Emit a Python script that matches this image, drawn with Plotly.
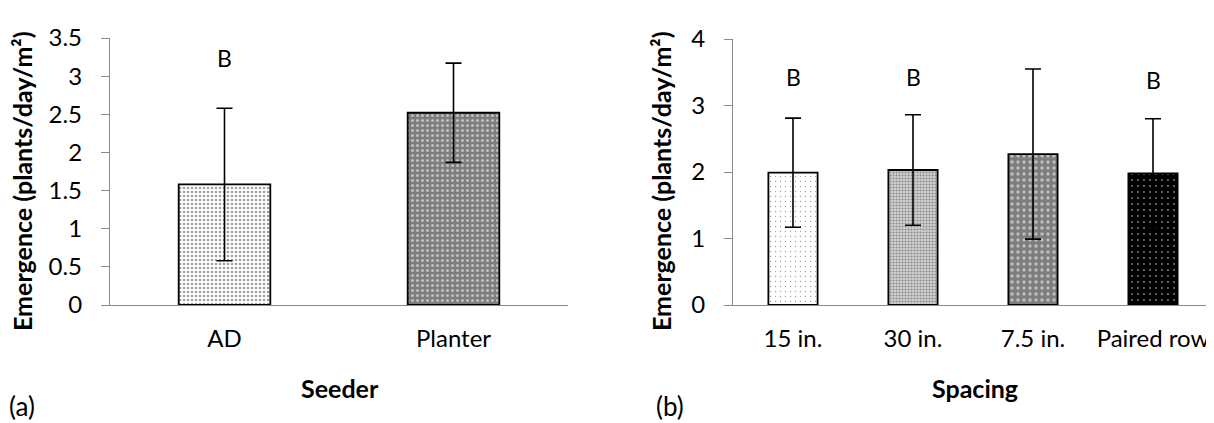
import plotly.graph_objects as go

# ---- data ----
seeder_cats = ["AD", "Planter"]
seeder_vals = [1.58, 2.52]
seeder_err = [1.0, 0.65]
seeder_letters = ["B", "A"]
seeder_letter_y = [3.24, 3.70]

spacing_cats = ["15 in.", "30 in.", "7.5 in.", "Paired row"]
spacing_vals = [1.99, 2.03, 2.27, 1.98]
spacing_err = [0.82, 0.83, 1.28, 0.82]
spacing_letters = ["B", "B", "A", "B"]
spacing_letter_y = [3.43, 3.43, 4.16, 3.38]

left_ticks = [0, 0.5, 1, 1.5, 2, 2.5, 3, 3.5]
left_ticktext = ["0", "0.5", "1", "1.5", "2", "2.5", "3", "3.5"]
right_ticks = [0, 1, 2, 3, 4]

# ---- styles ----
FONT = "Lato"
AX = "#898989"

# page body has an 8px margin: lay out in screen pixels, shifted by it
OFF = 8
W, H = 1214 - OFF, 423 - OFF


def px(x):
    return (x - OFF) / W


def py(y):
    return 1 - (y - OFF) / H


fig = go.Figure()

fig.add_trace(go.Bar(
    x=seeder_cats, y=seeder_vals, width=0.4,
    xaxis="x", yaxis="y",
    marker=dict(
        color=["#ffffff", "#7d7d7d"],
        line=dict(color="black", width=1.8),
        pattern=dict(shape=[".", "."], fillmode="overlay",
                     fgcolor=["#a8a8a8", "#dedede"],
                     size=[4, 5], solidity=[0.35, 0.3]),
    ),
    error_y=dict(type="data", array=seeder_err, color="black",
                 thickness=1.6, width=8),
    showlegend=False,
))

fig.add_trace(go.Bar(
    x=spacing_cats, y=spacing_vals, width=0.41,
    xaxis="x2", yaxis="y2",
    marker=dict(
        color=["#ffffff", "#d2d2d2", "#7d7d7d", "#000000"],
        line=dict(color="black", width=1.8),
        pattern=dict(shape=[".", ".", ".", "."], fillmode="overlay",
                     fgcolor=["#555555", "#8a8a8a", "#e0e0e0", "#8f8f8f"],
                     size=[5, 3, 6, 6], solidity=[0.06, 0.4, 0.25, 0.08]),
    ),
    error_y=dict(type="data", array=spacing_err, color="black",
                 thickness=1.6, width=8),
    showlegend=False,
))

tickfont = dict(family=FONT, size=24, color="black")
common_y = dict(showline=True, linecolor=AX, linewidth=1.3, ticks="outside",
                ticklen=8, tickcolor=AX, tickwidth=1.3, showgrid=False,
                zeroline=False, tickfont=tickfont, automargin=False,
                ticklabelstandoff=14)
common_x = dict(showline=True, linecolor=AX, linewidth=1.3, ticks="",
                showgrid=False, zeroline=False, tickfont=tickfont,
                automargin=False, ticklabelstandoff=12, type="category")

fig.update_layout(
    width=W, height=H,
    margin=dict(l=0, r=0, t=0, b=0),
    paper_bgcolor="white", plot_bgcolor="white",
    xaxis=dict(domain=[px(110), px(568)], anchor="y", **common_x),
    yaxis=dict(domain=[py(305), py(38)], anchor="x", range=[0, 3.5],
               tickvals=left_ticks, ticktext=left_ticktext, **common_y),
    xaxis2=dict(domain=[px(733), min(1.0, px(1213))], anchor="y2", **common_x),
    yaxis2=dict(domain=[py(305), py(39)], anchor="x2", range=[0, 4],
                tickvals=right_ticks, **common_y),
)

letter_font = dict(family=FONT, size=23, color="black")
anns = []
for c, t, yy in zip(seeder_cats, seeder_letters, seeder_letter_y):
    anns.append(dict(x=c, y=yy, xref="x", yref="y", text=t, showarrow=False,
                     font=letter_font))
for c, t, yy in zip(spacing_cats, spacing_letters, spacing_letter_y):
    anns.append(dict(x=c, y=yy, xref="x2", yref="y2", text=t, showarrow=False,
                     font=letter_font))

title_font = dict(family=FONT, size=25, color="black", weight="bold")
plain_font = dict(family=FONT, size=26, color="black")
anns += [
    dict(x=px(22), y=py(181), xref="paper", yref="paper",
         text="Emergence (plants/day/m²)", textangle=-90, showarrow=False,
         xanchor="center", yanchor="middle", font=title_font),
    dict(x=px(661), y=py(181), xref="paper", yref="paper",
         text="Emergence (plants/day/m²)", textangle=-90, showarrow=False,
         xanchor="center", yanchor="middle", font=title_font),
    dict(x=px(340), y=py(388), xref="paper", yref="paper", text="Seeder",
         showarrow=False, xanchor="center", yanchor="middle", font=title_font),
    dict(x=px(975), y=py(388), xref="paper", yref="paper", text="Spacing",
         showarrow=False, xanchor="center", yanchor="middle", font=title_font),
    dict(x=px(7), y=py(406), xref="paper", yref="paper", text="(a)",
         showarrow=False, xanchor="left", yanchor="middle", font=plain_font),
    dict(x=px(654), y=py(406), xref="paper", yref="paper", text="(b)",
         showarrow=False, xanchor="left", yanchor="middle", font=plain_font),
]
fig.update_layout(annotations=anns)

fig.write_html("out.html")
